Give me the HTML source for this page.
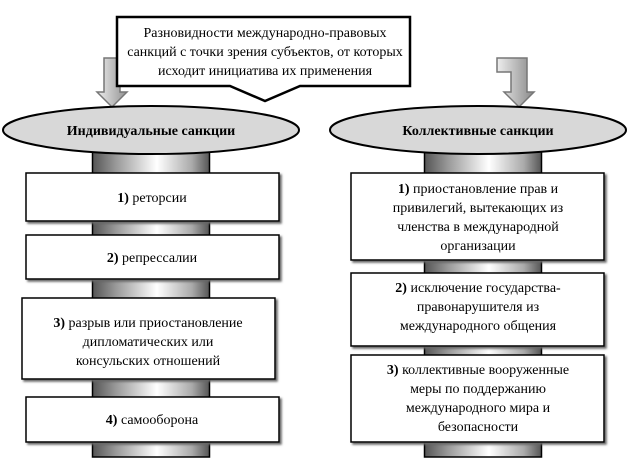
<!DOCTYPE html><html><head><style>
html,body{margin:0;background:#fff;width:630px;height:470px;overflow:hidden}
text{font-family:'Liberation Serif','DejaVu Serif',serif}
</style></head><body>
<svg width="630" height="470" style="position:absolute;left:0;top:0" font-family="'Liberation Serif','DejaVu Serif',serif" font-size="14">
<defs>
<linearGradient id="g" x1="0" x2="1"><stop offset="0" stop-color="#eee"/><stop offset="1" stop-color="#888"/></linearGradient>
<linearGradient id="pg" x1="0" x2="1"><stop offset="0" stop-color="#555"/><stop offset="0.2" stop-color="#999"/><stop offset="0.55" stop-color="#fff"/><stop offset="0.85" stop-color="#aaa"/><stop offset="1" stop-color="#555"/></linearGradient>
<filter id="s" x="-5%" y="-5%" width="110%" height="115%"><feDropShadow dx="2" dy="2" stdDeviation="1" flood-color="#666"/></filter>
</defs>
<rect x="92.5" y="150" width="117" height="307" fill="url(#pg)" stroke="#000" stroke-width="1.5"/>
<rect x="424.5" y="150" width="117" height="307" fill="url(#pg)" stroke="#000" stroke-width="1.5"/>
<path d="M130,58 L104,58 L104,92 L97,92 L112,107 L127,92 L120,92 L120,72 L130,72 Z" fill="url(#g)" stroke="#777" stroke-width="1.5"/>
<path d="M497,58 L527,58 L527,92 L534,92 L519,107 L504,92 L511,92 L511,72 L497,72 Z" fill="url(#g)" stroke="#777" stroke-width="1.5"/>
<path d="M117,17 L410,17 L410,86 L300,86 L265,101 L230,86 L117,86 Z" fill="#fff" stroke="#000" stroke-width="2.5"/>
<ellipse cx="151" cy="130" rx="148" ry="24" fill="#d8d8d8" stroke="#000" stroke-width="2"/>
<ellipse cx="478" cy="130" rx="148" ry="24" fill="#d8d8d8" stroke="#000" stroke-width="2"/>
<g fill="#fff" stroke="#000" stroke-width="1.5" filter="url(#s)">
<rect x="26" y="173" width="253" height="48"/>
<rect x="26" y="235" width="253" height="44"/>
<rect x="22" y="298" width="253" height="81"/>
<rect x="26" y="397" width="253" height="45"/>
<rect x="351" y="173" width="253" height="87"/>
<rect x="351" y="273" width="253" height="73"/>
<rect x="351" y="355" width="253" height="87"/>
</g>
<g text-anchor="middle">
<text x="151" y="135" font-weight="bold">Индивидуальные санкции</text>
<text x="478" y="135" font-weight="bold">Коллективные санкции</text>
<text x="265" y="37">Разновидности международно-правовых</text>
<text x="265" y="56">санкций с точки зрения субъектов, от которых</text>
<text x="265" y="75">исходит инициатива их применения</text>
<text x="152" y="202"><tspan font-weight="bold">1)</tspan> реторсии</text>
<text x="152" y="262"><tspan font-weight="bold">2)</tspan> репрессалии</text>
<text x="148" y="327"><tspan font-weight="bold">3)</tspan> разрыв или приостановление</text>
<text x="148" y="346">дипломатических или</text>
<text x="148" y="365">консульских отношений</text>
<text x="152" y="424"><tspan font-weight="bold">4)</tspan> самооборона</text>
<text x="478" y="193"><tspan font-weight="bold">1)</tspan> приостановление прав и</text>
<text x="478" y="212">привилегий, вытекающих из</text>
<text x="478" y="231">членства в международной</text>
<text x="478" y="250">организации</text>
<text x="478" y="292"><tspan font-weight="bold">2)</tspan> исключение государства-</text>
<text x="478" y="311">правонарушителя из</text>
<text x="478" y="330">международного общения</text>
<text x="478" y="374"><tspan font-weight="bold">3)</tspan> коллективные вооруженные</text>
<text x="478" y="393">меры по поддержанию</text>
<text x="478" y="412">международного мира и</text>
<text x="478" y="431">безопасности</text>
</g>
</svg>
</body></html>
